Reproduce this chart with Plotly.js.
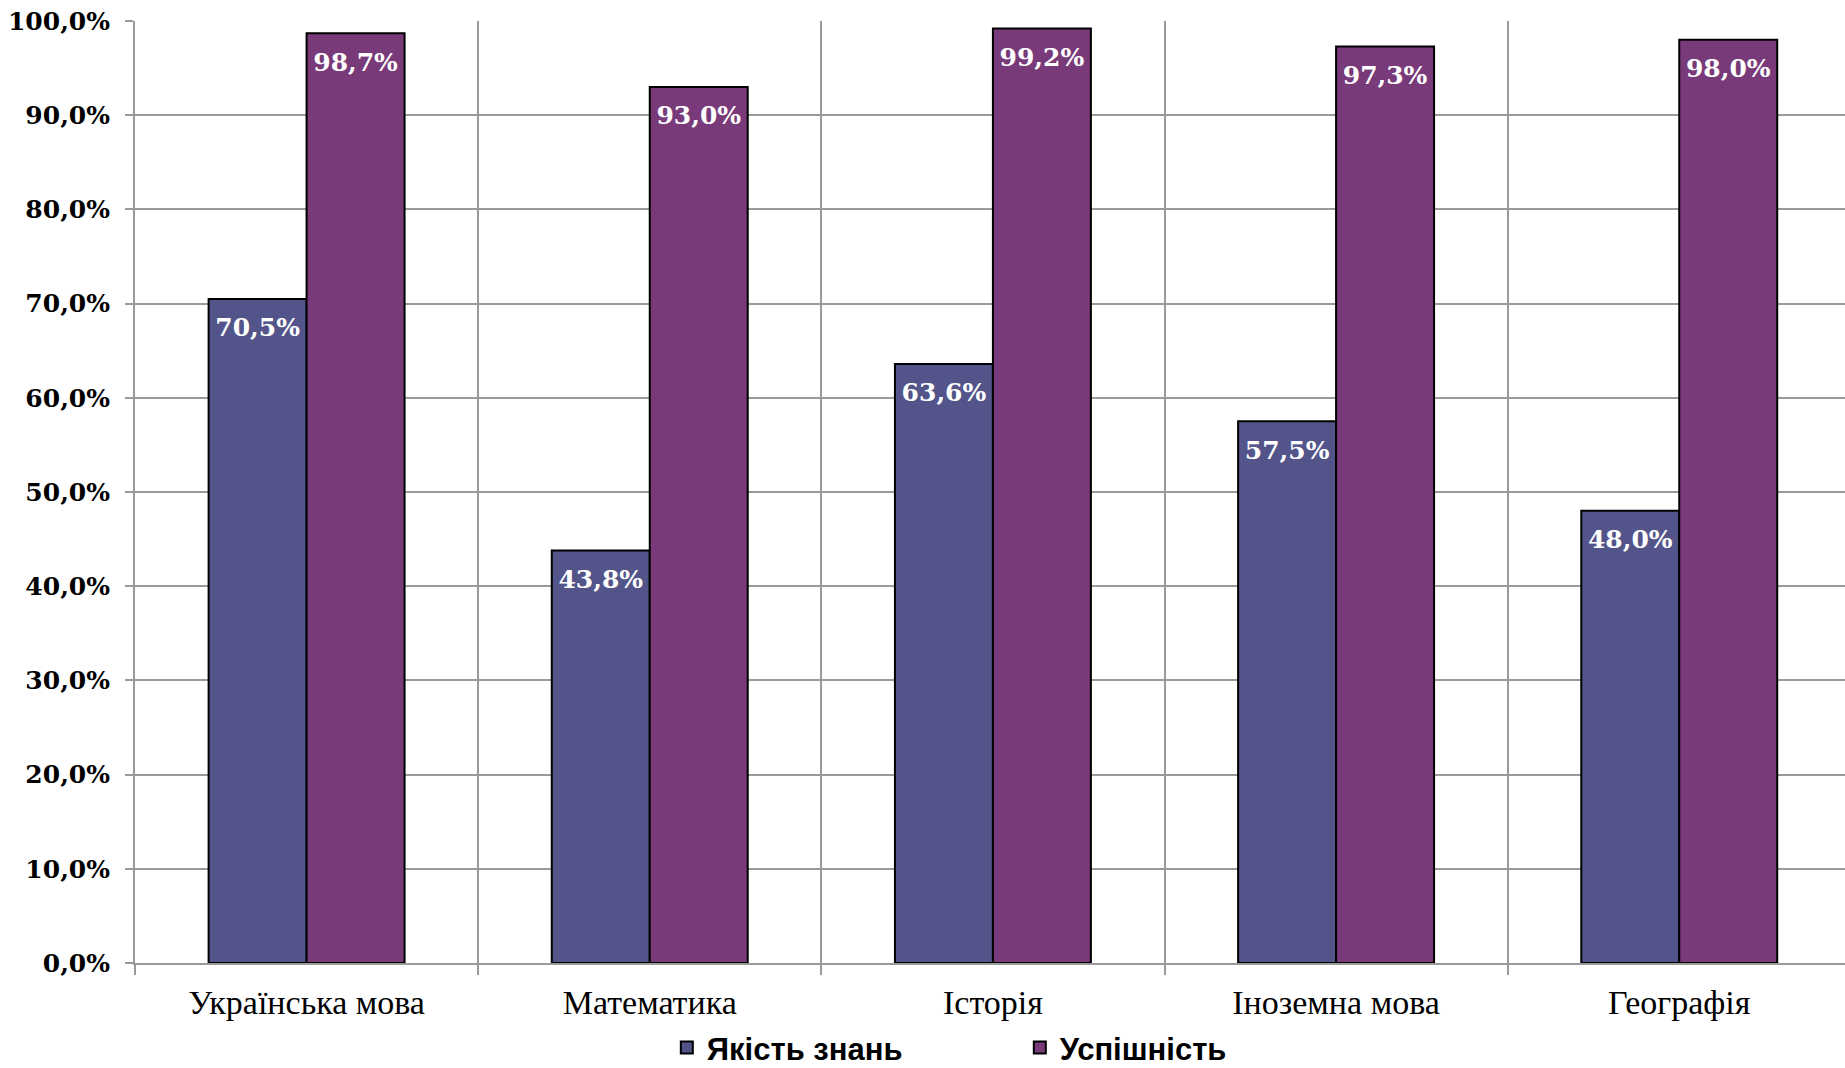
<!DOCTYPE html>
<html>
<head>
<meta charset="utf-8">
<script src="https://cdn.plot.ly/plotly-3.0.1.min.js"></script>
<style>html,body{margin:0;padding:0;background:#fff;}#chart{width:1845px;height:1068px;}</style>
</head>
<body>
<div id="chart"></div>
<script>
const categories = ["Українська мова", "Математика", "Історія", "Іноземна мова", "Географія"];
const seriesNames = ["Якість знань", "Успішність"];
const qualityValues = [70.5, 43.8, 63.6, 57.5, 48.0];
const successValues = [98.7, 93.0, 99.2, 97.3, 98.0];
const yTickValues = [0, 10, 20, 30, 40, 50, 60, 70, 80, 90, 100];
const yTickLabels = ["0,0%", "10,0%", "20,0%", "30,0%", "40,0%", "50,0%", "60,0%", "70,0%", "80,0%", "90,0%", "100,0%"];

const colors = ["#53548A", "#793A7A"];
const labelFont = {family: "DejaVu Serif, serif", size: 25, color: "#ffffff", weight: "bold"};

function barTrace(name, values, color, group) {
  return {
    type: "bar",
    name: name,
    x: categories,
    y: values,
    offsetgroup: group,
    marker: {color: color, line: {color: "#000000", width: 2}},
    hoverinfo: "skip"
  };
}

// value labels drawn just under each bar top, aligned with the grouped bars
function labelTrace(name, values, group) {
  return {
    type: "scatter",
    mode: "markers+text",
    name: name + " labels",
    x: categories,
    y: values,
    offsetgroup: group,
    marker: {size: 28, color: "rgba(0,0,0,0)", line: {width: 0}},
    texttemplate: "%{y:.1f}%",
    textposition: "bottom center",
    textfont: labelFont,
    showlegend: false,
    hoverinfo: "skip",
    cliponaxis: false
  };
}

const data = [
  barTrace(seriesNames[0], qualityValues, colors[0], "a"),
  barTrace(seriesNames[1], successValues, colors[1], "b"),
  labelTrace(seriesNames[0], qualityValues, "a"),
  labelTrace(seriesNames[1], successValues, "b")
];

const gridColor = "#9a9a9a";

const layout = {
  width: 1845,
  height: 1068,
  margin: {l: 135, r: 0, t: 21, b: 105, pad: 0, autoexpand: false},
  paper_bgcolor: "#ffffff",
  plot_bgcolor: "#ffffff",
  separators: ", ",
  barmode: "group",
  bargap: 0.429,
  bargroupgap: 0,
  scattermode: "group",
  scattergap: 0.429,
  showlegend: true,
  legend: {
    orientation: "h",
    x: 0.311,
    xanchor: "left",
    y: -0.09,
    yanchor: "middle",
    entrywidth: 308,
    entrywidthmode: "pixels",
    font: {family: "Liberation Sans, Arial, sans-serif", size: 31, color: "#000000", weight: "bold"},
    bgcolor: "rgba(0,0,0,0)",
    borderwidth: 0,
    traceorder: "normal"
  },
  xaxis: {
    type: "category",
    range: [-0.5, 4.483],
    tickson: "boundaries",
    ticks: "outside",
    ticklen: 10,
    tickwidth: 2,
    tickcolor: gridColor,
    showgrid: true,
    gridcolor: gridColor,
    gridwidth: 2,
    showline: true,
    linecolor: gridColor,
    linewidth: 2,
    ticklabelstandoff: 8,
    tickfont: {family: "Liberation Serif, Times New Roman, serif", size: 34, color: "#000000"},
    fixedrange: true
  },
  yaxis: {
    range: [0, 100],
    tickvals: yTickValues,
    ticktext: yTickLabels,
    ticks: "outside",
    ticklen: 8,
    tickwidth: 2,
    tickcolor: gridColor,
    showgrid: true,
    gridcolor: gridColor,
    gridwidth: 2,
    zeroline: false,
    showline: true,
    linecolor: gridColor,
    linewidth: 2,
    ticklabelstandoff: 10,
    tickfont: {family: "DejaVu Serif, serif", size: 25, color: "#000000", weight: "bold"},
    fixedrange: true
  }
};

Plotly.newPlot("chart", data, layout, {staticPlot: true, displayModeBar: false});
</script>
</body>
</html>
